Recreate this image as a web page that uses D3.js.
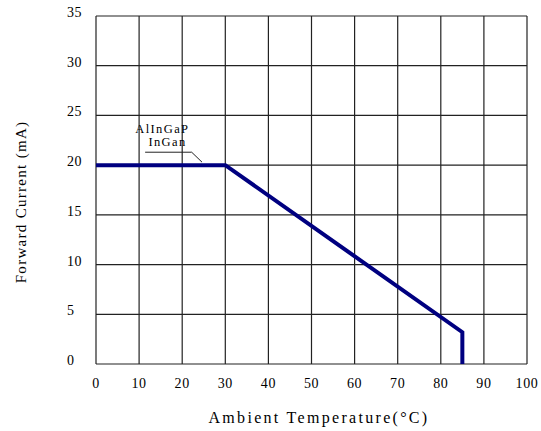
<!DOCTYPE html>
<html>
<head>
<meta charset="utf-8">
<script src="https://cdn.jsdelivr.net/npm/d3@7"></script>
<style>
  body { margin: 0; background: #fff; }
  text { font-family: "Liberation Serif", "DejaVu Serif", serif; fill: #000; }
</style>
</head>
<body>
<div id="chart"></div>
<script>
// data
const tempValues = [0, 30, 85, 85];
const currentValues = [20, 20, 3.2, 0];
const xTicks = [0, 10, 20, 30, 40, 50, 60, 70, 80, 90, 100];
const yTicks = [0, 5, 10, 15, 20, 25, 30, 35];
const seriesLabels = ["AlInGaP", "InGan"];

const W = 541, H = 431;
const margin = { top: 16, right: 14, bottom: 67, left: 96 };
const width = W - margin.left - margin.right;
const height = H - margin.top - margin.bottom;

const svg = d3.select("#chart").append("svg")
    .attr("width", W).attr("height", H);
const g = svg.append("g")
    .attr("transform", `translate(${margin.left},${margin.top})`);

const x = d3.scaleLinear().domain([0, 100]).range([0, width]);
const y = d3.scaleLinear().domain([0, 35]).range([height, 0]);

// grid
g.selectAll(".vgrid").data(xTicks).enter().append("line")
    .attr("x1", d => x(d)).attr("x2", d => x(d))
    .attr("y1", 0).attr("y2", height)
    .attr("stroke", "#222").attr("stroke-width", 1.2);
g.selectAll(".hgrid").data(yTicks).enter().append("line")
    .attr("x1", 0).attr("x2", width)
    .attr("y1", d => y(d)).attr("y2", d => y(d))
    .attr("stroke", "#222").attr("stroke-width", 1.2);

// tick labels
g.selectAll(".xl").data(xTicks).enter().append("text")
    .attr("x", d => x(d)).attr("y", height + 24)
    .attr("text-anchor", "middle").attr("font-size", 14)
    .attr("letter-spacing", 0.6)
    .text(d => d);
g.selectAll(".yl").data(yTicks).enter().append("text")
    .attr("x", -29).attr("y", d => y(d) + 1)
    .attr("text-anchor", "start").attr("font-size", 14)
    .attr("letter-spacing", 0.6)
    .text(d => d);

// curve
const pts = tempValues.map((t, i) => [t, currentValues[i]]);
g.append("path")
    .datum(pts)
    .attr("d", d3.line().x(d => x(d[0])).y(d => y(d[1])))
    .attr("fill", "none")
    .attr("stroke", "#000080")
    .attr("stroke-width", 4)
    .attr("stroke-linejoin", "miter");

// series label with leader
g.append("text").attr("x", x(15.4)).attr("y", y(23.25))
    .attr("text-anchor", "middle").attr("font-size", 12.5)
    .attr("letter-spacing", 1.4)
    .text(seriesLabels[0]);
g.append("text").attr("x", x(16.6)).attr("y", y(21.9))
    .attr("text-anchor", "middle").attr("font-size", 12.5)
    .attr("letter-spacing", 1.4)
    .text(seriesLabels[1]);
g.append("path")
    .attr("d", `M${x(11.4)},${y(21.3)}H${x(22.2)}L${x(24.6)},${y(20.3)}`)
    .attr("fill", "none").attr("stroke", "#222").attr("stroke-width", 1);

// axis titles
svg.append("text")
    .attr("x", 319).attr("y", 423)
    .attr("text-anchor", "middle").attr("font-size", 16)
    .attr("letter-spacing", 2.3)
    .text("Ambient Temperature(°C)");
svg.append("text")
    .attr("transform", "translate(26,202) rotate(-90)")
    .attr("text-anchor", "middle").attr("font-size", 15)
    .attr("letter-spacing", 1.3)
    .text("Forward Current (mA)");
</script>
</body>
</html>
